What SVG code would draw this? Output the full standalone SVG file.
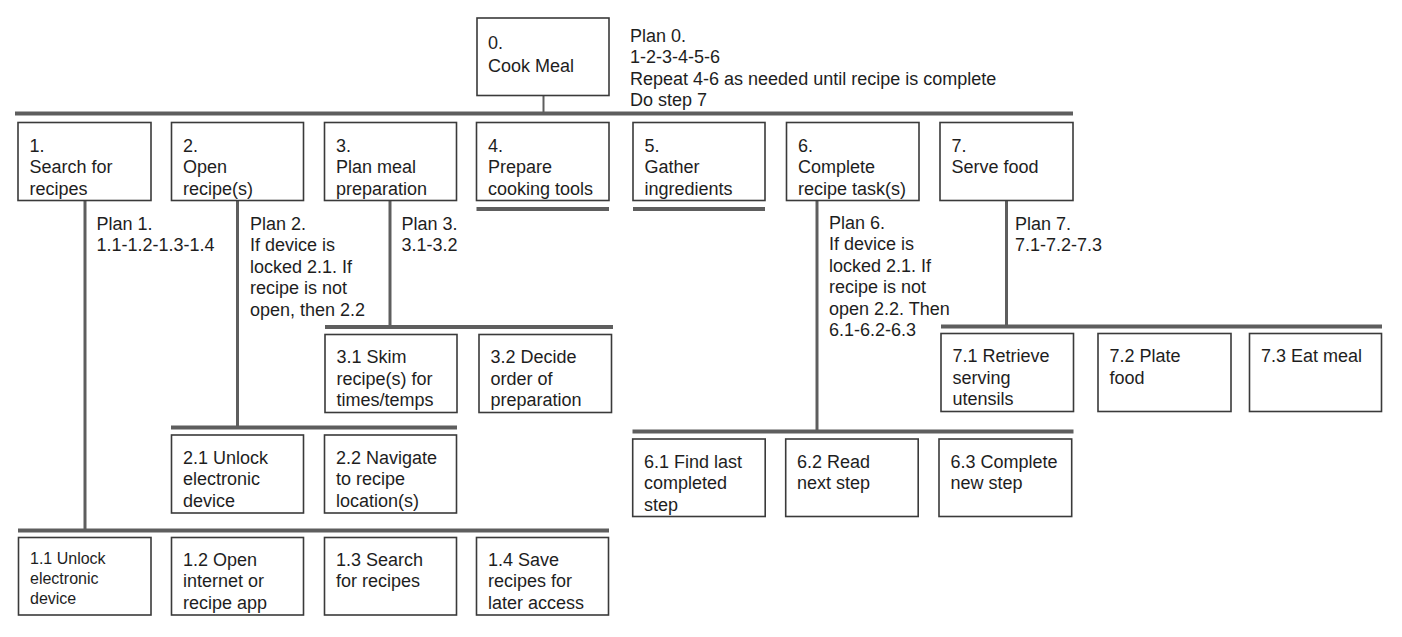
<svg xmlns="http://www.w3.org/2000/svg" width="1402" height="637" viewBox="0 0 1402 637">
<style>
.box{fill:#fff;stroke:#3a3a3a;stroke-width:1.6}
.bar{stroke:#5e5e5e;stroke-width:4;fill:none}
.vl{stroke:#5e5e5e;stroke-width:3;fill:none}
.vt{stroke:#5e5e5e;stroke-width:2;fill:none}
text{font-family:"Liberation Sans",Arial,sans-serif;font-size:18px;fill:#1e1e1e}
.sm{font-size:16px}
</style>
<rect width="1402" height="637" fill="#fff"/>
<g id="connectors">
<line class="vt" x1="543.5" y1="95.5" x2="543.5" y2="113"/>
<line class="bar" x1="15" y1="113.5" x2="1073" y2="113.5"/>
<line class="bar" x1="476.5" y1="209" x2="609" y2="209"/>
<line class="bar" x1="633" y1="209" x2="765" y2="209"/>
<line class="vl" x1="85" y1="200.5" x2="85" y2="530"/>
<line class="vl" x1="237.5" y1="200.5" x2="237.5" y2="427"/>
<line class="vl" x1="390" y1="200.5" x2="390" y2="327"/>
<line class="vl" x1="817" y1="200.5" x2="817" y2="431"/>
<line class="vl" x1="1006.5" y1="200.5" x2="1006.5" y2="326"/>
<line class="bar" x1="325" y1="327" x2="613" y2="327"/>
<line class="bar" x1="171" y1="427.5" x2="457" y2="427.5"/>
<line class="bar" x1="18" y1="530.5" x2="609" y2="530.5"/>
<line class="bar" x1="941" y1="326.5" x2="1382" y2="326.5"/>
<line class="bar" x1="632.5" y1="431.5" x2="1073.5" y2="431.5"/>
</g>
<g id="plan0"><text x="630" y="41.5">Plan 0.</text><text x="630" y="63">1-2-3-4-5-6</text><text x="630" y="84.5">Repeat 4-6 as needed until recipe is complete</text><text x="630" y="106">Do step 7</text></g>
<g id="plan1"><text x="96.5" y="229.5">Plan 1.</text><text x="96.5" y="251">1.1-1.2-1.3-1.4</text></g>
<g id="plan2"><text x="250" y="229.5">Plan 2.</text><text x="250" y="251">If device is</text><text x="250" y="272.5">locked 2.1. If</text><text x="250" y="294">recipe is not</text><text x="250" y="315.5">open, then 2.2</text></g>
<g id="plan3"><text x="401.5" y="229.5">Plan 3.</text><text x="401.5" y="251">3.1-3.2</text></g>
<g id="plan6"><text x="829" y="228.5">Plan 6.</text><text x="829" y="250">If device is</text><text x="829" y="271.5">locked 2.1. If</text><text x="829" y="293">recipe is not</text><text x="829" y="314.5">open 2.2. Then</text><text x="829" y="336">6.1-6.2-6.3</text></g>
<g id="plan7"><text x="1015" y="229.5">Plan 7.</text><text x="1015" y="251">7.1-7.2-7.3</text></g>
<g id="n0"><rect class="box" x="477" y="18" width="132" height="77.5"/><text x="488" y="48.5">0.</text><text x="488" y="71.5">Cook Meal</text></g>
<g id="n1"><rect class="box" x="18" y="122.5" width="133" height="78"/><text x="29.5" y="151.5">1.</text><text x="29.5" y="173">Search for</text><text x="29.5" y="194.5">recipes</text></g>
<g id="n2"><rect class="box" x="171.5" y="122.5" width="132" height="78"/><text x="183" y="151.5">2.</text><text x="183" y="173">Open</text><text x="183" y="194.5">recipe(s)</text></g>
<g id="n3"><rect class="box" x="324.5" y="122.5" width="132" height="78"/><text x="336" y="151.5">3.</text><text x="336" y="173">Plan meal</text><text x="336" y="194.5">preparation</text></g>
<g id="n4"><rect class="box" x="476.5" y="122.5" width="132.5" height="78"/><text x="488" y="151.5">4.</text><text x="488" y="173">Prepare</text><text x="488" y="194.5">cooking tools</text></g>
<g id="n5"><rect class="box" x="633" y="122.5" width="132" height="78"/><text x="644.5" y="151.5">5.</text><text x="644.5" y="173">Gather</text><text x="644.5" y="194.5">ingredients</text></g>
<g id="n6"><rect class="box" x="786.5" y="122.5" width="132.5" height="78"/><text x="798" y="151.5">6.</text><text x="798" y="173">Complete</text><text x="798" y="194.5">recipe task(s)</text></g>
<g id="n7"><rect class="box" x="940" y="122.5" width="133" height="78"/><text x="951.5" y="151.5">7.</text><text x="951.5" y="173">Serve food</text></g>
<g id="n3_1"><rect class="box" x="325" y="334.5" width="132" height="78"/><text x="336.5" y="363">3.1 Skim</text><text x="336.5" y="384.5">recipe(s) for</text><text x="336.5" y="406">times/temps</text></g>
<g id="n3_2"><rect class="box" x="479" y="334.5" width="132.5" height="78"/><text x="490.5" y="363">3.2 Decide</text><text x="490.5" y="384.5">order of</text><text x="490.5" y="406">preparation</text></g>
<g id="n7_1"><rect class="box" x="941" y="333.5" width="132.5" height="78"/><text x="952.5" y="362">7.1 Retrieve</text><text x="952.5" y="383.5">serving</text><text x="952.5" y="405">utensils</text></g>
<g id="n7_2"><rect class="box" x="1098" y="333.5" width="133" height="78"/><text x="1109.5" y="362">7.2 Plate</text><text x="1109.5" y="383.5">food</text></g>
<g id="n7_3"><rect class="box" x="1249.5" y="333.5" width="132" height="78"/><text x="1261" y="362">7.3 Eat meal</text></g>
<g id="n2_1"><rect class="box" x="171.5" y="435" width="132" height="78"/><text x="183" y="463.5">2.1 Unlock</text><text x="183" y="485">electronic</text><text x="183" y="506.5">device</text></g>
<g id="n2_2"><rect class="box" x="324.5" y="435" width="132" height="78"/><text x="336" y="463.5">2.2 Navigate</text><text x="336" y="485">to recipe</text><text x="336" y="506.5">location(s)</text></g>
<g id="n6_1"><rect class="box" x="632.7" y="439" width="132.5" height="77.5"/><text x="644" y="467.7">6.1 Find last</text><text x="644" y="489.3">completed</text><text x="644" y="510.7">step</text></g>
<g id="n6_2"><rect class="box" x="785.7" y="439" width="132.5" height="77.5"/><text x="797" y="467.7">6.2 Read</text><text x="797" y="489.3">next step</text></g>
<g id="n6_3"><rect class="box" x="939" y="439" width="132.7" height="77.5"/><text x="950.5" y="467.7">6.3 Complete</text><text x="950.5" y="489.3">new step</text></g>
<g id="n1_1"><rect class="box" x="18.5" y="537.5" width="132.5" height="77.5"/><text class="sm" x="30" y="563.5">1.1 Unlock</text><text class="sm" x="30" y="584">electronic</text><text class="sm" x="30" y="604">device</text></g>
<g id="n1_2"><rect class="box" x="171.5" y="537.5" width="132" height="77.5"/><text x="183" y="566">1.2 Open</text><text x="183" y="587">internet or</text><text x="183" y="608.5">recipe app</text></g>
<g id="n1_3"><rect class="box" x="324.5" y="537.5" width="132" height="77.5"/><text x="336" y="566">1.3 Search</text><text x="336" y="587">for recipes</text></g>
<g id="n1_4"><rect class="box" x="476.5" y="537.5" width="132" height="77.5"/><text x="488" y="566">1.4 Save</text><text x="488" y="587">recipes for</text><text x="488" y="608.5">later access</text></g>
</svg>
